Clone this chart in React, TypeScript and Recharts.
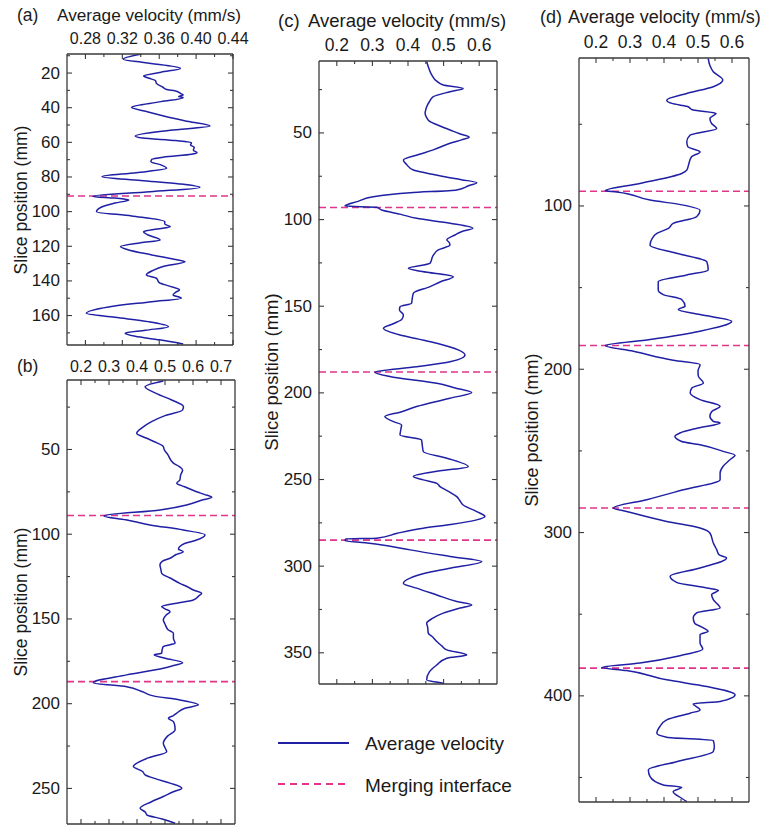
import React from 'react';
import { LineChart, Line, XAxis, YAxis, ReferenceLine } from 'recharts';

const W = 763;
const H = 827;
const FONT = '"Liberation Sans", Arial, Helvetica, sans-serif';
const BLUE = '#2020a4';
const PINK = '#e0358a';
const AXIS = '#3a3a3a';
const TEXT = '#1a1a1a';

// ---------- Panel (a) ----------
const posA = [9, 12, 14, 17.3, 19.5, 21.7, 23, 24.4, 26, 28.2, 29.5, 30.2, 32, 32.7, 33.5, 34.2, 36.5, 39.8, 42.5, 45.2, 48, 50.6, 53, 56.3, 57.5, 59, 60.2, 61.5, 62.9, 64.5, 66, 66.9, 68.5, 69.8, 71.2, 73, 75, 77.5, 79.8, 82, 84, 86, 88.5, 91.2, 92.2, 93.3, 95, 97.5, 100, 102.5, 105.8, 107.2, 108.7, 110, 111.6, 113.5, 116.4, 118, 120.2, 122, 125, 127.5, 129, 131.5, 134, 136.6, 138.5, 141, 143, 145.2, 146.5, 148.1, 150, 152, 155, 158.7, 161, 163.5, 166.4, 168.5, 170.2, 172, 174, 176.4];
const velA = [0.341, 0.321, 0.345, 0.383, 0.362, 0.343, 0.349, 0.356, 0.357, 0.364, 0.368, 0.377, 0.384, 0.386, 0.381, 0.386, 0.362, 0.330, 0.348, 0.368, 0.392, 0.415, 0.372, 0.334, 0.342, 0.378, 0.395, 0.394, 0.398, 0.397, 0.401, 0.395, 0.365, 0.352, 0.351, 0.362, 0.368, 0.335, 0.298, 0.340, 0.382, 0.404, 0.350, 0.288, 0.312, 0.327, 0.312, 0.297, 0.292, 0.330, 0.366, 0.366, 0.372, 0.358, 0.343, 0.348, 0.361, 0.340, 0.318, 0.326, 0.352, 0.376, 0.388, 0.365, 0.353, 0.346, 0.357, 0.360, 0.371, 0.382, 0.378, 0.375, 0.384, 0.352, 0.305, 0.281, 0.312, 0.348, 0.370, 0.345, 0.323, 0.334, 0.360, 0.386];
const ifaceA = [91];
const xDomA = [0.26, 0.44];
const yDomA = [9, 177];
const xMajA = [0.28, 0.32, 0.36, 0.40, 0.44];
const xMinA = [0.30, 0.34, 0.38, 0.42];
const yMajA = [20, 40, 60, 80, 100, 120, 140, 160];
const yMinA = [10, 30, 50, 70, 90, 110, 130, 150, 170];

// ---------- Panel (b) ----------
const posB = [9.6, 13, 17, 20.8, 24.7, 26.7, 30, 33.6, 37, 40.4, 43.4, 46, 48.3, 50, 53, 58.1, 60, 62.1, 65, 68, 69.9, 72, 74.9, 76.5, 78.2, 80, 82.7, 85.7, 89.2, 91.5, 94.5, 97.5, 100.4, 103.4, 105.5, 107.3, 108.8, 110.3, 112, 114.2, 116, 118.1, 120.5, 123, 126, 129, 131, 132.9, 134.9, 136.5, 138.8, 141, 142.7, 144, 145.7, 147.5, 150.6, 153, 156.5, 158.4, 161.4, 164.3, 166.3, 168, 170.2, 171.2, 173.2, 175.8, 177.5, 179.1, 183, 187.6, 190, 193, 195.4, 197.8, 200.7, 202.7, 205.6, 207, 208.6, 210.6, 213, 215.5, 219, 223.3, 226, 228.3, 232, 237.1, 240, 242, 244.5, 246.9, 249.9, 252, 254.8, 258, 261.7, 264, 265.6, 268, 270.6];
const velB = [0.494, 0.429, 0.470, 0.524, 0.566, 0.563, 0.500, 0.452, 0.420, 0.399, 0.435, 0.470, 0.494, 0.497, 0.510, 0.530, 0.550, 0.563, 0.556, 0.553, 0.542, 0.570, 0.613, 0.640, 0.667, 0.630, 0.577, 0.482, 0.282, 0.360, 0.446, 0.565, 0.643, 0.613, 0.570, 0.553, 0.548, 0.565, 0.540, 0.518, 0.490, 0.482, 0.485, 0.488, 0.520, 0.553, 0.580, 0.601, 0.631, 0.620, 0.601, 0.530, 0.488, 0.500, 0.518, 0.505, 0.494, 0.500, 0.512, 0.530, 0.530, 0.536, 0.494, 0.490, 0.488, 0.461, 0.500, 0.563, 0.530, 0.494, 0.363, 0.244, 0.363, 0.420, 0.458, 0.553, 0.619, 0.571, 0.542, 0.530, 0.512, 0.530, 0.535, 0.536, 0.510, 0.494, 0.500, 0.506, 0.440, 0.387, 0.420, 0.429, 0.470, 0.518, 0.560, 0.530, 0.494, 0.450, 0.411, 0.430, 0.435, 0.490, 0.536];
const ifaceB = [89, 187];
const xDomB = [0.15, 0.75];
const yDomB = [9, 271];
const xMajB = [0.2, 0.3, 0.4, 0.5, 0.6, 0.7];
const xMinB = [0.25, 0.35, 0.45, 0.55, 0.65];
const yMajB = [50, 100, 150, 200, 250];
const yMinB = [25, 75, 125, 175, 225];

// ---------- Panel (c) ----------
const posC = [8.9, 11.8, 16.6, 20, 22.3, 24.3, 26.2, 29.1, 32, 34.9, 36.5, 38.7, 41, 43.5, 46, 48.3, 50.5, 52.5, 54, 56, 59.8, 62.5, 65.6, 68, 71.4, 73.5, 75.2, 77, 78.7, 80.5, 82.9, 84.5, 86.8, 89.5, 92.2, 92.9, 94.5, 97, 99.3, 102.1, 105, 107, 108.9, 111.8, 113, 114.7, 117.5, 121, 125.2, 128.1, 130, 133, 136, 138.7, 142.5, 145.5, 148.3, 150.3, 152.2, 155, 157.5, 160, 162.7, 166.6, 169, 171.4, 175.2, 178.1, 182, 184.9, 188.1, 190.6, 194.5, 197, 199.8, 203.1, 207.9, 211, 213.7, 216.6, 218.5, 221, 224.3, 227.2, 230, 233.9, 237.7, 242.6, 245, 248.3, 250.2, 252.2, 254.1, 257, 259.9, 262, 264.7, 268.5, 271.4, 273.3, 276, 278.1, 281, 283.9, 284.3, 285.4, 286.5, 288.5, 290.6, 294.4, 297.3, 301.2, 304, 306.9, 309.8, 312.7, 316.6, 320.4, 322.4, 324.2, 327.1, 330, 332.9, 335, 338.7, 341, 343.5, 346, 348.3, 351.2, 353.1, 357, 361, 365.6, 367.5];
const velC = [0.4525, 0.457, 0.467, 0.480, 0.499, 0.555, 0.518, 0.471, 0.460, 0.4525, 0.450, 0.448, 0.452, 0.462, 0.490, 0.518, 0.545, 0.572, 0.550, 0.518, 0.471, 0.430, 0.387, 0.395, 0.415, 0.460, 0.499, 0.550, 0.593, 0.570, 0.537, 0.406, 0.3025, 0.260, 0.223, 0.312, 0.326, 0.380, 0.424, 0.518, 0.582, 0.550, 0.532, 0.509, 0.515, 0.518, 0.485, 0.470, 0.462, 0.401, 0.440, 0.527, 0.490, 0.462, 0.415, 0.412, 0.410, 0.3775, 0.376, 0.387, 0.383, 0.360, 0.331, 0.3775, 0.430, 0.481, 0.541, 0.560, 0.518, 0.424, 0.307, 0.349, 0.481, 0.530, 0.579, 0.518, 0.424, 0.380, 0.335, 0.359, 0.382, 0.380, 0.3775, 0.438, 0.440, 0.443, 0.509, 0.569, 0.490, 0.415, 0.443, 0.481, 0.490, 0.515, 0.537, 0.545, 0.555, 0.593, 0.616, 0.593, 0.520, 0.443, 0.370, 0.312, 0.225, 0.223, 0.280, 0.350, 0.406, 0.518, 0.607, 0.518, 0.450, 0.406, 0.387, 0.424, 0.481, 0.537, 0.579, 0.546, 0.499, 0.470, 0.4525, 0.455, 0.457, 0.470, 0.481, 0.495, 0.509, 0.565, 0.509, 0.481, 0.460, 0.4525, 0.499];
const ifaceC = [93, 188, 285];
const xDomC = [0.15, 0.65];
const yDomC = [8.5, 368];
const xMajC = [0.2, 0.3, 0.4, 0.5, 0.6];
const xMinC = [0.25, 0.35, 0.45, 0.55];
const yMajC = [50, 100, 150, 200, 250, 300, 350];
const yMinC = [25, 75, 125, 175, 225, 275, 325];

// ---------- Panel (d) ----------
const posD = [9.6, 14, 17.8, 22.9, 27, 31.1, 35.2, 37.2, 39, 41.3, 43.3, 46.4, 49.5, 52.5, 56.6, 60.7, 63.8, 66.9, 69.9, 75, 78.1, 80.1, 86.2, 90.7, 91.4, 96.4, 99.5, 102.6, 106.6, 110.7, 113.7, 116.8, 120, 124, 129, 134.2, 139.2, 142.3, 146.4, 151.5, 154.3, 157.3, 161.4, 163.4, 166.5, 170.6, 176.7, 181.8, 185.5, 189, 194.5, 197.2, 201, 204.3, 208.4, 211.5, 214.5, 218.6, 222.7, 226, 228.8, 231.9, 232.9, 236, 239, 241.1, 244.2, 246.2, 250.3, 252.7, 255.4, 259.4, 263.5, 267.6, 273.8, 279.9, 285, 287.1, 293.2, 297.2, 300.3, 306.4, 310.5, 313.6, 315.6, 321.7, 326.8, 330.5, 333.9, 335.4, 338, 341.1, 346.2, 349.2, 352.3, 355.4, 358.4, 360.5, 362.5, 367.6, 371.3, 375.4, 379.9, 382.6, 384.5, 390.2, 394.3, 399.4, 403.5, 404.9, 408.6, 410.6, 414.7, 418.8, 422.9, 425.3, 427.4, 431.1, 434.1, 440.3, 445.4, 449.5, 454.6, 456, 458.7, 462.7, 464.8];
const velD = [0.530, 0.535, 0.545, 0.573, 0.545, 0.467, 0.408, 0.423, 0.467, 0.486, 0.553, 0.535, 0.540, 0.555, 0.477, 0.467, 0.470, 0.506, 0.481, 0.472, 0.467, 0.452, 0.329, 0.227, 0.261, 0.359, 0.457, 0.506, 0.496, 0.427, 0.413, 0.379, 0.365, 0.359, 0.437, 0.526, 0.530, 0.467, 0.383, 0.383, 0.398, 0.452, 0.462, 0.442, 0.506, 0.599, 0.506, 0.359, 0.227, 0.310, 0.427, 0.506, 0.500, 0.501, 0.516, 0.482, 0.477, 0.506, 0.565, 0.540, 0.535, 0.545, 0.565, 0.500, 0.447, 0.432, 0.452, 0.506, 0.574, 0.609, 0.594, 0.574, 0.565, 0.565, 0.457, 0.349, 0.251, 0.290, 0.408, 0.506, 0.535, 0.545, 0.555, 0.562, 0.584, 0.506, 0.418, 0.437, 0.526, 0.560, 0.540, 0.545, 0.565, 0.496, 0.486, 0.490, 0.516, 0.530, 0.506, 0.506, 0.514, 0.447, 0.329, 0.217, 0.290, 0.408, 0.526, 0.609, 0.565, 0.486, 0.506, 0.477, 0.408, 0.388, 0.379, 0.408, 0.545, 0.548, 0.545, 0.437, 0.354, 0.359, 0.398, 0.452, 0.427, 0.452, 0.467];
const ifaceD = [91, 185.5, 285, 383];
const xDomD = [0.15, 0.65];
const yDomD = [9.4, 465];
const xMajD = [0.2, 0.3, 0.4, 0.5, 0.6];
const xMinD = [0.25, 0.35, 0.45, 0.55];
const yMajD = [100, 200, 300, 400];
const yMinD = [50, 150, 250, 350, 450];

const seriesNames = ['Average velocity', 'Merging interface'];

type Box = { left: number; top: number; right: number; bottom: number };

const near = (v: number, arr: number[]) => arr.some((m) => Math.abs(m - v) < 1e-6);

type Side = 'top' | 'bottom' | 'left' | 'right';

function makeTick(side: Side, box: Box, major: number[], fmt: ((v: number) => string) | null, gap: number, font: number) {
  return (props: any) => {
    const v = props.payload ? props.payload.value : 0;
    const isMajor = near(v, major);
    const len = isMajor ? 5 : 3;
    const st = { stroke: AXIS, strokeWidth: 1.1 };
    let line: any = null;
    let label: any = null;
    if (side === 'top') {
      const x = props.x;
      line = <line x1={x} y1={box.top} x2={x} y2={box.top + len} {...st} />;
      if (fmt && isMajor)
        label = (
          <text x={x} y={box.top - gap} textAnchor="middle" dominantBaseline="central" fontSize={font} fill={TEXT} fontFamily={FONT}>
            {fmt(v)}
          </text>
        );
    } else if (side === 'bottom') {
      const x = props.x;
      line = <line x1={x} y1={box.bottom} x2={x} y2={box.bottom - len} {...st} />;
    } else if (side === 'left') {
      const y = props.y;
      line = <line x1={box.left} y1={y} x2={box.left + len} y2={y} {...st} />;
      if (fmt && isMajor)
        label = (
          <text x={box.left - gap} y={y} textAnchor="end" dominantBaseline="central" fontSize={font} fill={TEXT} fontFamily={FONT}>
            {fmt(v)}
          </text>
        );
    } else {
      const y = props.y;
      line = <line x1={box.right} y1={y} x2={box.right - len} y2={y} {...st} />;
    }
    return (
      <g>
        {line}
        {label}
      </g>
    );
  };
}

type PanelProps = {
  pos: number[];
  vel: number[];
  iface: number[];
  box: Box;
  xDom: number[];
  yDom: number[];
  xMaj: number[];
  xMin: number[];
  yMaj: number[];
  yMin: number[];
  xDigits: number;
  xGap: number;
  xFont: number;
  yFont: number;
};

const AX = 1; // thickness reserved for each axis

function Panel(p: PanelProps) {
  const data = p.pos.map((pp, i) => ({ p: pp, v: p.vel[i] }));
  const margin = {
    top: p.box.top - AX,
    left: p.box.left - AX,
    right: W - p.box.right - AX,
    bottom: H - p.box.bottom - AX,
  };
  const xAll = [...p.xMaj, ...p.xMin].sort((a, b) => a - b);
  const yAll = [...p.yMaj, ...p.yMin].sort((a, b) => a - b);
  const axisLine = { stroke: AXIS, strokeWidth: 1.3 };
  const fx = (v: number) => v.toFixed(p.xDigits);
  const fy = (v: number) => String(Math.round(v));
  return (
    <div style={{ position: 'absolute', left: 0, top: 0 }}>
      <LineChart width={W} height={H} layout="vertical" data={data} margin={margin}>
        <XAxis
          xAxisId="top"
          orientation="top"
          type="number"
          dataKey="v"
          domain={p.xDom}
          allowDataOverflow
          ticks={xAll}
          interval={0}
          height={AX}
          tickSize={0}
          tickMargin={0}
          tickLine={false}
          axisLine={axisLine}
          tick={makeTick('top', p.box, p.xMaj, fx, p.xGap, p.xFont)}
        />
        <XAxis
          xAxisId="bottom"
          orientation="bottom"
          type="number"
          dataKey="v"
          domain={p.xDom}
          allowDataOverflow
          ticks={xAll}
          interval={0}
          height={AX}
          tickSize={0}
          tickMargin={0}
          tickLine={false}
          axisLine={axisLine}
          tick={makeTick('bottom', p.box, p.xMaj, null, 0, 0)}
        />
        <YAxis
          yAxisId="left"
          orientation="left"
          type="number"
          dataKey="p"
          domain={p.yDom}
          allowDataOverflow
          ticks={yAll}
          interval={0}
          width={AX}
          tickSize={0}
          tickMargin={0}
          tickLine={false}
          axisLine={axisLine}
          tick={makeTick('left', p.box, p.yMaj, fy, 7, p.yFont)}
        />
        <YAxis
          yAxisId="right"
          orientation="right"
          type="number"
          dataKey="p"
          domain={p.yDom}
          allowDataOverflow
          ticks={yAll}
          interval={0}
          width={AX}
          tickSize={0}
          tickMargin={0}
          tickLine={false}
          axisLine={axisLine}
          tick={makeTick('right', p.box, p.yMaj, null, 0, 0)}
        />
        {p.iface.map((y) => (
          <ReferenceLine
            key={y}
            xAxisId="top"
            yAxisId="left"
            y={y}
            stroke={PINK}
            strokeWidth={1.6}
            strokeDasharray="7 4"
          />
        ))}
        <Line
          xAxisId="top"
          yAxisId="left"
          dataKey="v"
          name={seriesNames[0]}
          stroke={BLUE}
          strokeWidth={1.5}
          dot={false}
          activeDot={false}
          isAnimationActive={false}
          type="monotone"
        />
      </LineChart>
    </div>
  );
}

const boxA: Box = { left: 67, top: 54, right: 233, bottom: 345 };
const boxB: Box = { left: 67, top: 380, right: 235, bottom: 824 };
const boxC: Box = { left: 319, top: 61, right: 497, bottom: 684 };
const boxD: Box = { left: 579, top: 58, right: 749, bottom: 802 };

export default function App() {
  const t = (x: number, y: number, s: string, size: number, extra: any = {}) => (
    <text x={x} y={y} fontSize={size} fill={TEXT} fontFamily={FONT} dominantBaseline="central" {...extra}>
      {s}
    </text>
  );
  const rot = (cx: number, cy: number, s: string, size: number) => (
    <text
      x={cx}
      y={cy}
      fontSize={size}
      fill={TEXT}
      fontFamily={FONT}
      textAnchor="middle"
      dominantBaseline="central"
      transform={`rotate(-90 ${cx} ${cy})`}
    >
      {s}
    </text>
  );
  return (
    <div style={{ position: 'absolute', left: 0, top: 0, width: W, height: H, background: '#fff', fontFamily: FONT }}>
      <Panel pos={posA} vel={velA} iface={ifaceA} box={boxA} xDom={xDomA} yDom={yDomA} xMaj={xMajA} xMin={xMinA} yMaj={yMajA} yMin={yMinA} xDigits={2} xGap={16} xFont={16} yFont={17} />
      <Panel pos={posB} vel={velB} iface={ifaceB} box={boxB} xDom={xDomB} yDom={yDomB} xMaj={xMajB} xMin={xMinB} yMaj={yMajB} yMin={yMinB} xDigits={1} xGap={14} xFont={16} yFont={17} />
      <Panel pos={posC} vel={velC} iface={ifaceC} box={boxC} xDom={xDomC} yDom={yDomC} xMaj={xMajC} xMin={xMinC} yMaj={yMajC} yMin={yMinC} xDigits={1} xGap={16} xFont={17.5} yFont={17} />
      <Panel pos={posD} vel={velD} iface={ifaceD} box={boxD} xDom={xDomD} yDom={yDomD} xMaj={xMajD} xMin={xMinD} yMaj={yMajD} yMin={yMinD} xDigits={1} xGap={16} xFont={17.5} yFont={17} />
      <svg width={W} height={H} style={{ position: 'absolute', left: 0, top: 0, pointerEvents: 'none' }}>
        {t(17, 15, '(a)', 17.5)}
        {t(57, 15, 'Average velocity (mm/s)', 17.2)}
        {t(17, 366, '(b)', 17.5)}
        {t(278, 20, '(c)', 18.5)}
        {t(308, 20, 'Average velocity (mm/s)', 18.5)}
        {t(540, 17, '(d)', 18)}
        {t(568, 17, 'Average velocity (mm/s)', 18)}
        {rot(21, 200, 'Slice position (mm)', 17.5)}
        {rot(21, 602, 'Slice position (mm)', 17.5)}
        {rot(271, 372, 'Slice position (mm)', 18.5)}
        {rot(532, 430, 'Slice position (mm)', 18)}
        <line x1={278} y1={743} x2={349} y2={743} stroke={BLUE} strokeWidth={1.8} />
        {t(365, 743, seriesNames[0], 19)}
        <line x1={278} y1={784} x2={349} y2={784} stroke={PINK} strokeWidth={1.8} strokeDasharray="7 5" />
        {t(365, 785, seriesNames[1], 19)}
      </svg>
    </div>
  );
}
